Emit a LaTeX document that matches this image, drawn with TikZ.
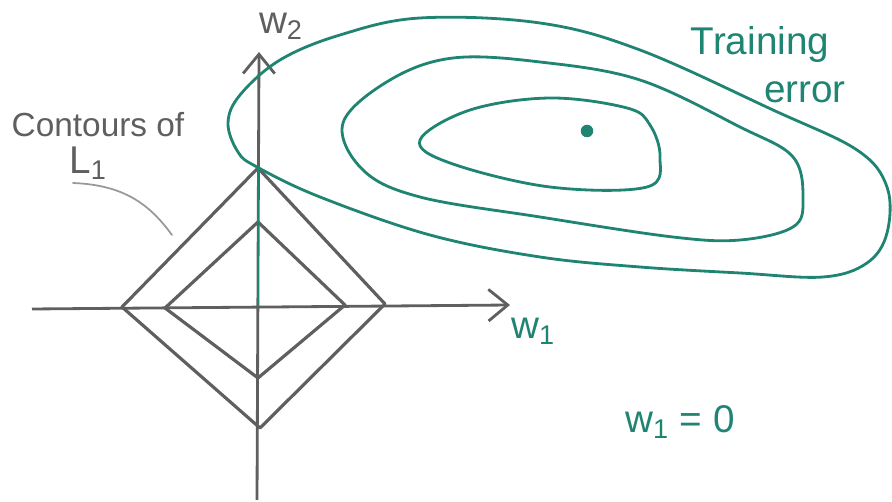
\documentclass[tikz,border=0pt]{standalone}
\usepackage{fontspec}
\setmainfont{Liberation Sans}
\usetikzlibrary{arrows.meta}
\definecolor{sketchgray}{RGB}{95,95,95}
\definecolor{errgreen}{RGB}{32,132,115}

\begin{document}
\begin{tikzpicture}[x=0.02cm, y=-0.02cm,
  axis/.style={draw=sketchgray, line width=1.6pt, -{Straight Barb[length=11pt,width=18pt]}},
  ball/.style={draw=sketchgray, line width=1.8pt, line join=round},
  level/.style={draw=errgreen, line width=1.6pt},
  lbl/.style={font=\fontsize{22}{26}\selectfont, inner sep=0pt},
  dot/.style={circle, fill=errgreen, inner sep=0pt, minimum size=0.25cm},
  pointer/.style={draw=gray!80, line width=1pt, line cap=round}
]
  \useasboundingbox (0,0) rectangle (892,502);

  % axes
  \coordinate (w1start) at (32,309);
  \coordinate (w1end) at (510,305);
  \coordinate (w2start) at (257,500);
  \coordinate (w2end) at (259,52);
  \draw[axis] (w1start) -- (w1end);
  \draw[axis] (w2start) -- (w2end);

  % L1 balls
  \draw[ball] (258,168) -- (385,304) -- (260,428) -- (122,307) -- cycle;
  \draw[ball] (258,222) -- (345,305) -- (258,378) -- (165,308) -- cycle;

  % contours of the training error
  \draw[level] plot[smooth cycle, tension=0.6] coordinates {
    (228,123) (238,152) (257,167) (320,197) (430,235) (540,257) (640,267)
    (740,273) (823,277) (867,263) (887,233) (887,187) (857,150) (773,110)
    (640,50) (540,23) (420,18) (340,35) (280,60) (240,95)};
  \draw[level] plot[smooth cycle, tension=0.6] coordinates {
    (343,123) (363,170) (420,197) (540,217) (673,237) (740,240) (793,227)
    (803,200) (793,157) (740,127) (640,80) (540,62) (453,58) (390,80)};
  \draw[level] plot[smooth cycle, tension=0.6] coordinates {
    (420,140) (450,163) (550,187) (647,187) (660,157) (650,125) (627,108)
    (550,98) (470,110)};
  \node[dot] (minpt) at (587,131) {};

  % sparse solution on the w2 axis
  \coordinate (corner) at (258,168);
  \coordinate (origin) at (258,306);
  \draw[level] (corner) -- (origin);

  % labels
  \node[lbl, text=sketchgray] (w2lbl) at (281,26) {w\textsubscript{2}};
  \node[lbl, text=errgreen] (w1lbl) at (533,331) {w\textsubscript{1}};
  \node[lbl, text=errgreen] (trainlbl) at (760,45) {Training};
  \node[lbl, text=errgreen] (errorlbl) at (805,92) {error};
  \node[lbl, text=sketchgray, font=\fontsize{19}{22}\selectfont] (contlbl) at (98,125) {Contours of};
  \node[lbl, text=sketchgray] (l1lbl) at (88,163) {L\textsubscript{1}};
  \node[lbl, text=errgreen] (zerolbl) at (680,422) {w\textsubscript{1} = 0};

  \coordinate (pstart) at (73,183);
  \coordinate (ptip) at (172,235);
  \draw[pointer] (pstart) .. controls (125,185) and (150,205) .. (ptip);
\end{tikzpicture}
\end{document}
